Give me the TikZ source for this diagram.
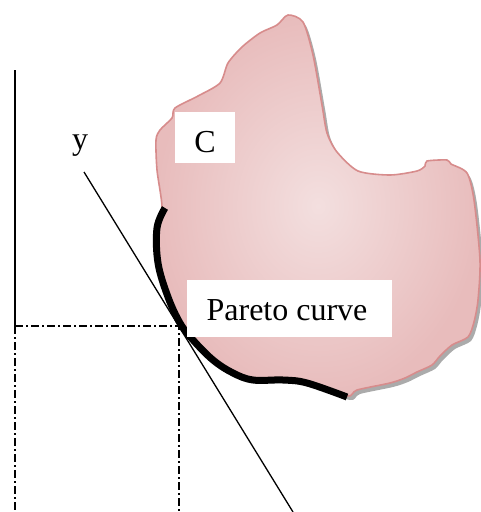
\documentclass[tikz,border=0pt]{standalone}
\usepackage{fontspec}
\setmainfont{Liberation Serif}
\begin{document}
\begin{tikzpicture}[x=1pt,y=-1pt,
  axis/.style={line width=1.3pt,black},
  dashdot/.style={line width=1.3pt,black,dash pattern=on 8pt off 3pt on 2pt off 3pt},
  paretoline/.style={line width=7pt,black},
  whitebox/.style={fill=white,draw=none,inner sep=0pt},
  lbl/.style={font=\fontsize{32}{37}\selectfont,inner sep=0pt,anchor=base}]
\useasboundingbox (0,0) rectangle (481,512);
\definecolor{blobedge}{RGB}{215,140,140}
\definecolor{blobout}{RGB}{232,188,188}
\definecolor{blobin}{RGB}{243,223,223}
\def\blobpath{plot[smooth cycle,tension=0.45] coordinates {
(288,15) (303,22) (313,55) (322,105) (327,133) (337,152) (358,171) (390,175)
(417,171) (425,166) (427,161) (447,160) (451,164) (467,173) (474,200) (480,260)
(478,300) (474,322) (468,337) (452,345) (440,356) (432,365) (417,372) (405,378)
(390,383) (357,390) (347,396) (307,382) (283,379) (253,379) (233,372) (213,359)
(193,339) (180,322) (169,297) (160,263) (157,230) (162,207) (157,170) (156,140)
(160,130) (172,118) (175,108) (198,96) (220,83) (228,63) (242,47) (260,33) (277,25)}}
% shadow
\fill[black!55,opacity=0.6,shift={(3,4)}] \blobpath;
% blob
\shade[inner color=blobin,outer color=blobout,shading=radial] \blobpath;
\draw[blobedge,line width=1.6pt] \blobpath;
% axes
\coordinate (ytop) at (15,70);
\coordinate (orig) at (15,326);
\coordinate (ybot) at (15,512);
\coordinate (pt) at (179,326);
\coordinate (ptbot) at (179,512);
\draw[axis] (ytop) -- (orig);
\draw[dashdot] (orig) -- (ybot);
\draw[dashdot] (orig) -- (pt) -- (ptbot);
% tangent
\coordinate (t1) at (84,172);
\coordinate (t2) at (293,512);
\draw[line width=1.3pt] (t1) -- (t2);
% pareto curve
\draw[paretoline] plot[smooth,tension=0.6] coordinates {(165,208) (157,228) (158,263) (168,297) (180,323) (193,340) (213,360) (233,373) (253,380) (283,380) (307,383) (347,397)};
% labels
\node[lbl] (ylab) at (80,149) {y};
\node[whitebox,minimum width=60pt,minimum height=51pt] (cbox) at (205,137.5) {};
\node[lbl] (clab) at (205,152) {C};
\node[whitebox,minimum width=205pt,minimum height=57pt] (pbox) at (289.5,308.5) {};
\node[lbl] (plab) at (287,320) {Pareto curve};
\end{tikzpicture}
\end{document}
